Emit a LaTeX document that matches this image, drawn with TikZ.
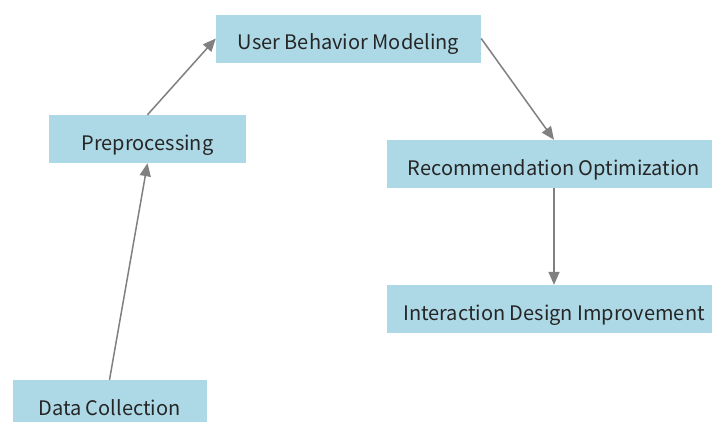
\documentclass[tikz,border=0pt]{standalone}
\usepackage{fontspec}
\setmainfont{Noto Sans CJK SC}
\usepackage{tikz}
\usetikzlibrary{arrows.meta}

\begin{document}
\begin{tikzpicture}[x=1pt,y=-1pt,>={Triangle[length=13pt,width=11pt]},
    every node/.style={font=\fontsize{20}{24}\selectfont,text=black!85},
    stagebox/.style={fill={rgb,255:red,173;green,216;blue,230},
      inner sep=0pt,minimum height=48pt,text height=24pt,text depth=2pt},
    flow/.style={->,draw=black!50,line width=1.5pt}]
  \clip (0,0) rectangle (712,421);
  \fill[white] (0,0) rectangle (712,421);
  % stages
  \node[stagebox,minimum width=194pt] (dc)  at (109.5,404)  {Data Collection};
  \node[stagebox,minimum width=197pt] (pre) at (147.5,139)  {Preprocessing};
  \node[stagebox,minimum width=265pt] (ubm) at (348.5,38.5) {User Behavior Modeling};
  \node[stagebox,minimum width=334pt] (rec) at (554,164)    {Recommendation Optimization};
  \node[stagebox,minimum width=334pt] (idi) at (554,309)    {Interaction Design Improvement};
  % arrows
  \draw[flow] (dc.north) -- (pre.south);
  \draw[flow] (pre.north) -- (ubm.west);
  \draw[flow] (ubm.east) -- (rec.north);
  \draw[flow] (rec.south) -- (idi.north);
\end{tikzpicture}
\end{document}
